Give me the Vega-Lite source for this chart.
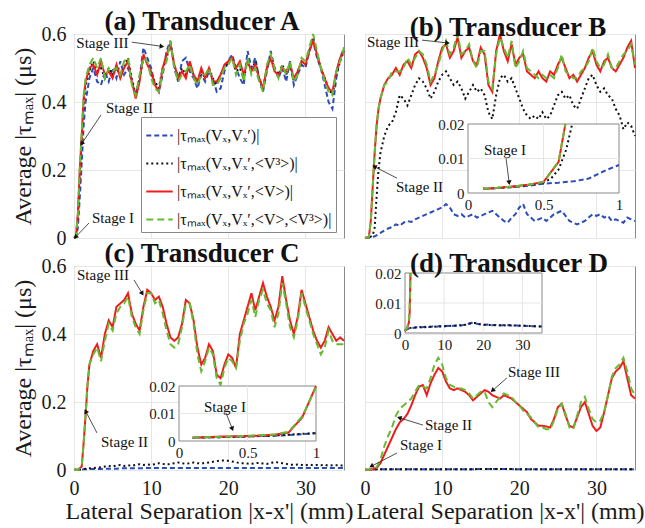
{
"$schema":"https://vega.github.io/schema/vega-lite/v6.json",
"background":"white",
"padding":{"left":10,"top":7,"right":5,"bottom":3},
"config":{
 "font":"Liberation Serif, Times New Roman, serif",
 "view":{"stroke":"#8a8a8a","strokeWidth":1},
 "axis":{"labelFont":"Liberation Serif, Times New Roman, serif","titleFont":"Liberation Serif, Times New Roman, serif","labelFontSize":20,"labelColor":"#1a1a1a","titleColor":"#1a1a1a","titleFontWeight":"normal","grid":true,"gridColor":"#e6e6e6","gridWidth":1,"domain":false,"ticks":false,"labelFlush":false,"labelOverlap":false,"labelPadding":8},
 "title":{"font":"Liberation Serif, Times New Roman, serif","fontSize":27,"fontWeight":"bold","color":"#111","offset":-12,"baseline":"alphabetic","frame":"group"},
 "text":{"font":"Liberation Serif, Times New Roman, serif"}
},
"datasets":{
 "a":[
{"x":0,"s1":0,"s2":0,"s3":0,"s4":0},
{"x":0.25,"s1":0.003,"s2":0.003,"s3":0.003,"s4":0.003},
{"x":0.5,"s1":0.03,"s2":0.06,"s3":0.07,"s4":0.07},
{"x":0.75,"s1":0.12,"s2":0.18,"s3":0.2,"s4":0.21},
{"x":1,"s1":0.22,"s2":0.29,"s3":0.3,"s4":0.31},
{"x":1.25,"s1":0.33,"s2":0.39,"s3":0.41,"s4":0.42},
{"x":1.5,"s1":0.4,"s2":0.45,"s3":0.46,"s4":0.47},
{"x":2,"s1":0.47,"s2":0.49,"s3":0.5,"s4":0.51},
{"x":2.5,"s1":0.5,"s2":0.52,"s3":0.51,"s4":0.53},
{"x":3,"s1":0.46,"s2":0.49,"s3":0.48,"s4":0.5},
{"x":3.5,"s1":0.45,"s2":0.5,"s3":0.52,"s4":0.53},
{"x":4,"s1":0.49,"s2":0.47,"s3":0.48,"s4":0.47},
{"x":4.5,"s1":0.46,"s2":0.5,"s3":0.49,"s4":0.5},
{"x":5,"s1":0.5,"s2":0.48,"s3":0.47,"s4":0.49},
{"x":5.5,"s1":0.47,"s2":0.5,"s3":0.51,"s4":0.5},
{"x":6,"s1":0.52,"s2":0.48,"s3":0.47,"s4":0.48},
{"x":6.5,"s1":0.48,"s2":0.5,"s3":0.5,"s4":0.52},
{"x":7,"s1":0.5,"s2":0.53,"s3":0.52,"s4":0.53},
{"x":7.5,"s1":0.46,"s2":0.47,"s3":0.46,"s4":0.45},
{"x":8,"s1":0.42,"s2":0.42,"s3":0.41,"s4":0.42},
{"x":8.5,"s1":0.47,"s2":0.47,"s3":0.46,"s4":0.48},
{"x":9,"s1":0.56,"s2":0.53,"s3":0.54,"s4":0.53},
{"x":9.5,"s1":0.53,"s2":0.52,"s3":0.51,"s4":0.52},
{"x":10,"s1":0.5,"s2":0.48,"s3":0.49,"s4":0.47},
{"x":10.5,"s1":0.45,"s2":0.46,"s3":0.45,"s4":0.44},
{"x":11,"s1":0.43,"s2":0.44,"s3":0.43,"s4":0.43},
{"x":11.5,"s1":0.48,"s2":0.5,"s3":0.5,"s4":0.49},
{"x":12,"s1":0.55,"s2":0.53,"s3":0.54,"s4":0.52},
{"x":12.5,"s1":0.58,"s2":0.57,"s3":0.57,"s4":0.58},
{"x":13,"s1":0.5,"s2":0.51,"s3":0.51,"s4":0.5},
{"x":13.5,"s1":0.46,"s2":0.47,"s3":0.47,"s4":0.46},
{"x":14,"s1":0.52,"s2":0.5,"s3":0.49,"s4":0.48},
{"x":14.5,"s1":0.53,"s2":0.48,"s3":0.47,"s4":0.49},
{"x":15,"s1":0.49,"s2":0.51,"s3":0.52,"s4":0.51},
{"x":15.5,"s1":0.47,"s2":0.48,"s3":0.48,"s4":0.47},
{"x":16,"s1":0.44,"s2":0.46,"s3":0.46,"s4":0.45},
{"x":16.5,"s1":0.48,"s2":0.49,"s3":0.5,"s4":0.48},
{"x":17,"s1":0.46,"s2":0.47,"s3":0.47,"s4":0.48},
{"x":17.5,"s1":0.49,"s2":0.5,"s3":0.5,"s4":0.5},
{"x":18,"s1":0.47,"s2":0.47,"s3":0.46,"s4":0.45},
{"x":18.5,"s1":0.43,"s2":0.45,"s3":0.46,"s4":0.45},
{"x":19,"s1":0.44,"s2":0.48,"s3":0.48,"s4":0.47},
{"x":19.5,"s1":0.49,"s2":0.5,"s3":0.51,"s4":0.5},
{"x":20,"s1":0.52,"s2":0.52,"s3":0.52,"s4":0.51},
{"x":20.5,"s1":0.54,"s2":0.53,"s3":0.53,"s4":0.53},
{"x":21,"s1":0.5,"s2":0.49,"s3":0.5,"s4":0.48},
{"x":21.5,"s1":0.47,"s2":0.5,"s3":0.52,"s4":0.51},
{"x":22,"s1":0.45,"s2":0.47,"s3":0.48,"s4":0.46},
{"x":22.5,"s1":0.55,"s2":0.52,"s3":0.52,"s4":0.53},
{"x":23,"s1":0.5,"s2":0.49,"s3":0.49,"s4":0.48},
{"x":23.5,"s1":0.53,"s2":0.52,"s3":0.51,"s4":0.5},
{"x":24,"s1":0.47,"s2":0.47,"s3":0.47,"s4":0.46},
{"x":24.5,"s1":0.43,"s2":0.44,"s3":0.44,"s4":0.43},
{"x":25,"s1":0.49,"s2":0.5,"s3":0.5,"s4":0.51},
{"x":25.5,"s1":0.55,"s2":0.53,"s3":0.53,"s4":0.54},
{"x":26,"s1":0.5,"s2":0.5,"s3":0.49,"s4":0.5},
{"x":26.5,"s1":0.47,"s2":0.48,"s3":0.48,"s4":0.47},
{"x":27,"s1":0.5,"s2":0.51,"s3":0.5,"s4":0.51},
{"x":27.5,"s1":0.46,"s2":0.48,"s3":0.49,"s4":0.48},
{"x":28,"s1":0.52,"s2":0.51,"s3":0.51,"s4":0.52},
{"x":28.5,"s1":0.45,"s2":0.46,"s3":0.47,"s4":0.46},
{"x":29,"s1":0.48,"s2":0.49,"s3":0.49,"s4":0.48},
{"x":29.5,"s1":0.51,"s2":0.52,"s3":0.52,"s4":0.53},
{"x":30,"s1":0.5,"s2":0.51,"s3":0.51,"s4":0.52},
{"x":30.5,"s1":0.55,"s2":0.55,"s3":0.55,"s4":0.56},
{"x":31,"s1":0.58,"s2":0.59,"s3":0.58,"s4":0.6},
{"x":31.5,"s1":0.53,"s2":0.54,"s3":0.54,"s4":0.55},
{"x":32,"s1":0.5,"s2":0.5,"s3":0.5,"s4":0.5},
{"x":32.5,"s1":0.45,"s2":0.47,"s3":0.47,"s4":0.46},
{"x":33,"s1":0.4,"s2":0.44,"s3":0.44,"s4":0.43},
{"x":33.5,"s1":0.38,"s2":0.42,"s3":0.43,"s4":0.42},
{"x":34,"s1":0.47,"s2":0.48,"s3":0.49,"s4":0.49},
{"x":34.5,"s1":0.53,"s2":0.52,"s3":0.53,"s4":0.52},
{"x":35,"s1":0.56,"s2":0.55,"s3":0.55,"s4":0.56}
 ],
 "b":[
{"x":0,"s1":0,"s2":0,"s3":0,"s4":0},
{"x":0.5,"s1":0.001,"s2":0.002,"s3":0.003,"s4":0.003},
{"x":0.75,"s1":0.002,"s2":0.004,"s3":0.05,"s4":0.05},
{"x":1,"s1":0.003,"s2":0.008,"s3":0.15,"s4":0.15},
{"x":1.25,"s1":0.005,"s2":0.03,"s3":0.25,"s4":0.25},
{"x":1.5,"s1":0.008,"s2":0.12,"s3":0.33,"s4":0.33},
{"x":1.75,"s1":0.012,"s2":0.2,"s3":0.38,"s4":0.38},
{"x":2,"s1":0.015,"s2":0.25,"s3":0.41,"s4":0.41},
{"x":2.5,"s1":0.022,"s2":0.3,"s3":0.45,"s4":0.45},
{"x":3,"s1":0.028,"s2":0.33,"s3":0.47,"s4":0.46},
{"x":3.5,"s1":0.032,"s2":0.34,"s3":0.48,"s4":0.49},
{"x":4,"s1":0.04,"s2":0.37,"s3":0.5,"s4":0.49},
{"x":4.5,"s1":0.036,"s2":0.42,"s3":0.48,"s4":0.49},
{"x":5,"s1":0.045,"s2":0.41,"s3":0.51,"s4":0.5},
{"x":5.5,"s1":0.05,"s2":0.39,"s3":0.52,"s4":0.53},
{"x":6,"s1":0.047,"s2":0.42,"s3":0.5,"s4":0.51},
{"x":6.5,"s1":0.055,"s2":0.45,"s3":0.54,"s4":0.53},
{"x":7,"s1":0.06,"s2":0.47,"s3":0.55,"s4":0.55},
{"x":7.5,"s1":0.065,"s2":0.46,"s3":0.53,"s4":0.54},
{"x":8,"s1":0.07,"s2":0.44,"s3":0.5,"s4":0.51},
{"x":8.5,"s1":0.075,"s2":0.41,"s3":0.45,"s4":0.46},
{"x":9,"s1":0.08,"s2":0.43,"s3":0.47,"s4":0.48},
{"x":9.5,"s1":0.085,"s2":0.46,"s3":0.52,"s4":0.51},
{"x":10,"s1":0.09,"s2":0.48,"s3":0.56,"s4":0.55},
{"x":10.5,"s1":0.1,"s2":0.49,"s3":0.57,"s4":0.58},
{"x":11,"s1":0.09,"s2":0.47,"s3":0.53,"s4":0.54},
{"x":11.5,"s1":0.07,"s2":0.45,"s3":0.55,"s4":0.56},
{"x":12,"s1":0.065,"s2":0.46,"s3":0.59,"s4":0.6},
{"x":12.5,"s1":0.07,"s2":0.44,"s3":0.53,"s4":0.54},
{"x":13,"s1":0.06,"s2":0.41,"s3":0.55,"s4":0.55},
{"x":13.5,"s1":0.065,"s2":0.43,"s3":0.56,"s4":0.57},
{"x":14,"s1":0.07,"s2":0.45,"s3":0.52,"s4":0.52},
{"x":14.5,"s1":0.06,"s2":0.43,"s3":0.51,"s4":0.5},
{"x":15,"s1":0.065,"s2":0.44,"s3":0.56,"s4":0.55},
{"x":15.5,"s1":0.07,"s2":0.42,"s3":0.54,"s4":0.55},
{"x":16,"s1":0.075,"s2":0.37,"s3":0.45,"s4":0.46},
{"x":16.5,"s1":0.08,"s2":0.35,"s3":0.43,"s4":0.44},
{"x":17,"s1":0.07,"s2":0.42,"s3":0.55,"s4":0.54},
{"x":17.5,"s1":0.06,"s2":0.47,"s3":0.6,"s4":0.59},
{"x":18,"s1":0.05,"s2":0.48,"s3":0.55,"s4":0.56},
{"x":18.5,"s1":0.045,"s2":0.46,"s3":0.52,"s4":0.53},
{"x":19,"s1":0.06,"s2":0.47,"s3":0.57,"s4":0.58},
{"x":19.5,"s1":0.07,"s2":0.44,"s3":0.51,"s4":0.5},
{"x":20,"s1":0.09,"s2":0.41,"s3":0.53,"s4":0.52},
{"x":20.5,"s1":0.1,"s2":0.38,"s3":0.54,"s4":0.55},
{"x":21,"s1":0.07,"s2":0.36,"s3":0.49,"s4":0.5},
{"x":21.5,"s1":0.06,"s2":0.35,"s3":0.48,"s4":0.49},
{"x":22,"s1":0.05,"s2":0.36,"s3":0.47,"s4":0.48},
{"x":22.5,"s1":0.055,"s2":0.35,"s3":0.49,"s4":0.47},
{"x":23,"s1":0.06,"s2":0.37,"s3":0.47,"s4":0.48},
{"x":23.5,"s1":0.05,"s2":0.35,"s3":0.46,"s4":0.47},
{"x":24,"s1":0.06,"s2":0.36,"s3":0.49,"s4":0.48},
{"x":24.5,"s1":0.07,"s2":0.39,"s3":0.48,"s4":0.47},
{"x":25,"s1":0.075,"s2":0.42,"s3":0.51,"s4":0.5},
{"x":25.5,"s1":0.08,"s2":0.43,"s3":0.53,"s4":0.54},
{"x":26,"s1":0.065,"s2":0.41,"s3":0.5,"s4":0.49},
{"x":26.5,"s1":0.05,"s2":0.42,"s3":0.47,"s4":0.48},
{"x":27,"s1":0.045,"s2":0.39,"s3":0.48,"s4":0.47},
{"x":27.5,"s1":0.04,"s2":0.38,"s3":0.46,"s4":0.47},
{"x":28,"s1":0.045,"s2":0.41,"s3":0.48,"s4":0.49},
{"x":28.5,"s1":0.05,"s2":0.44,"s3":0.5,"s4":0.5},
{"x":29,"s1":0.06,"s2":0.47,"s3":0.53,"s4":0.52},
{"x":29.5,"s1":0.07,"s2":0.48,"s3":0.55,"s4":0.56},
{"x":30,"s1":0.065,"s2":0.45,"s3":0.51,"s4":0.52},
{"x":30.5,"s1":0.07,"s2":0.43,"s3":0.49,"s4":0.5},
{"x":31,"s1":0.06,"s2":0.44,"s3":0.52,"s4":0.51},
{"x":31.5,"s1":0.065,"s2":0.42,"s3":0.53,"s4":0.54},
{"x":32,"s1":0.05,"s2":0.41,"s3":0.5,"s4":0.5},
{"x":32.5,"s1":0.055,"s2":0.38,"s3":0.49,"s4":0.5},
{"x":33,"s1":0.05,"s2":0.36,"s3":0.51,"s4":0.52},
{"x":33.5,"s1":0.045,"s2":0.32,"s3":0.53,"s4":0.54},
{"x":34,"s1":0.06,"s2":0.34,"s3":0.56,"s4":0.55},
{"x":34.5,"s1":0.055,"s2":0.33,"s3":0.58,"s4":0.57},
{"x":35,"s1":0.05,"s2":0.3,"s3":0.5,"s4":0.51}
 ],
 "c":[
{"x":0,"s1":0.001,"s2":0.001,"s3":0,"s4":0},
{"x":0.5,"s1":0.001,"s2":0.001,"s3":0.001,"s4":0.001},
{"x":1,"s1":0.001,"s2":0.002,"s3":0.01,"s4":0.01},
{"x":1.25,"s1":0.002,"s2":0.003,"s3":0.08,"s4":0.08},
{"x":1.5,"s1":0.002,"s2":0.004,"s3":0.16,"s4":0.16},
{"x":1.75,"s1":0.002,"s2":0.005,"s3":0.25,"s4":0.25},
{"x":2,"s1":0.003,"s2":0.005,"s3":0.31,"s4":0.31},
{"x":2.5,"s1":0.003,"s2":0.006,"s3":0.35,"s4":0.34},
{"x":3,"s1":0.003,"s2":0.007,"s3":0.37,"s4":0.36},
{"x":3.5,"s1":0.003,"s2":0.008,"s3":0.33,"s4":0.32},
{"x":4,"s1":0.004,"s2":0.01,"s3":0.4,"s4":0.38},
{"x":4.5,"s1":0.004,"s2":0.012,"s3":0.44,"s4":0.43},
{"x":5,"s1":0.004,"s2":0.01,"s3":0.42,"s4":0.41},
{"x":5.5,"s1":0.004,"s2":0.013,"s3":0.48,"s4":0.46},
{"x":6,"s1":0.005,"s2":0.015,"s3":0.49,"s4":0.48},
{"x":6.5,"s1":0.005,"s2":0.012,"s3":0.5,"s4":0.49},
{"x":7,"s1":0.005,"s2":0.014,"s3":0.52,"s4":0.51},
{"x":7.5,"s1":0.005,"s2":0.012,"s3":0.46,"s4":0.45},
{"x":8,"s1":0.005,"s2":0.015,"s3":0.43,"s4":0.42},
{"x":8.5,"s1":0.005,"s2":0.017,"s3":0.41,"s4":0.4},
{"x":9,"s1":0.005,"s2":0.015,"s3":0.48,"s4":0.47},
{"x":9.5,"s1":0.006,"s2":0.016,"s3":0.53,"s4":0.52},
{"x":10,"s1":0.006,"s2":0.015,"s3":0.52,"s4":0.52},
{"x":10.5,"s1":0.006,"s2":0.017,"s3":0.5,"s4":0.49},
{"x":11,"s1":0.006,"s2":0.02,"s3":0.51,"s4":0.5},
{"x":11.5,"s1":0.006,"s2":0.018,"s3":0.48,"s4":0.46},
{"x":12,"s1":0.006,"s2":0.016,"s3":0.43,"s4":0.41},
{"x":12.5,"s1":0.006,"s2":0.018,"s3":0.39,"s4":0.37},
{"x":13,"s1":0.006,"s2":0.02,"s3":0.38,"s4":0.36},
{"x":13.5,"s1":0.006,"s2":0.022,"s3":0.39,"s4":0.37},
{"x":14,"s1":0.006,"s2":0.02,"s3":0.43,"s4":0.42},
{"x":14.5,"s1":0.006,"s2":0.018,"s3":0.5,"s4":0.49},
{"x":15,"s1":0.006,"s2":0.02,"s3":0.49,"s4":0.49},
{"x":15.5,"s1":0.006,"s2":0.022,"s3":0.44,"s4":0.43},
{"x":16,"s1":0.006,"s2":0.02,"s3":0.36,"s4":0.34},
{"x":16.5,"s1":0.006,"s2":0.019,"s3":0.31,"s4":0.29},
{"x":17,"s1":0.006,"s2":0.021,"s3":0.33,"s4":0.32},
{"x":17.5,"s1":0.006,"s2":0.022,"s3":0.37,"s4":0.36},
{"x":18,"s1":0.006,"s2":0.024,"s3":0.35,"s4":0.34},
{"x":18.5,"s1":0.006,"s2":0.026,"s3":0.28,"s4":0.27},
{"x":19,"s1":0.006,"s2":0.028,"s3":0.27,"s4":0.25},
{"x":19.5,"s1":0.006,"s2":0.028,"s3":0.31,"s4":0.3},
{"x":20,"s1":0.006,"s2":0.027,"s3":0.34,"s4":0.33},
{"x":20.5,"s1":0.006,"s2":0.025,"s3":0.33,"s4":0.32},
{"x":21,"s1":0.006,"s2":0.023,"s3":0.3,"s4":0.3},
{"x":21.5,"s1":0.006,"s2":0.02,"s3":0.4,"s4":0.38},
{"x":22,"s1":0.006,"s2":0.02,"s3":0.44,"s4":0.43},
{"x":22.5,"s1":0.006,"s2":0.019,"s3":0.48,"s4":0.46},
{"x":23,"s1":0.006,"s2":0.018,"s3":0.52,"s4":0.5},
{"x":23.5,"s1":0.006,"s2":0.02,"s3":0.47,"s4":0.45},
{"x":24,"s1":0.006,"s2":0.021,"s3":0.51,"s4":0.5},
{"x":24.5,"s1":0.006,"s2":0.019,"s3":0.55,"s4":0.53},
{"x":25,"s1":0.006,"s2":0.018,"s3":0.51,"s4":0.49},
{"x":25.5,"s1":0.006,"s2":0.02,"s3":0.48,"s4":0.47},
{"x":26,"s1":0.006,"s2":0.024,"s3":0.44,"s4":0.42},
{"x":26.5,"s1":0.006,"s2":0.022,"s3":0.48,"s4":0.46},
{"x":27,"s1":0.006,"s2":0.02,"s3":0.57,"s4":0.55},
{"x":27.5,"s1":0.006,"s2":0.018,"s3":0.5,"s4":0.49},
{"x":28,"s1":0.006,"s2":0.016,"s3":0.44,"s4":0.42},
{"x":28.5,"s1":0.006,"s2":0.015,"s3":0.4,"s4":0.39},
{"x":29,"s1":0.006,"s2":0.016,"s3":0.45,"s4":0.44},
{"x":29.5,"s1":0.006,"s2":0.015,"s3":0.53,"s4":0.52},
{"x":30,"s1":0.006,"s2":0.014,"s3":0.49,"s4":0.48},
{"x":30.5,"s1":0.006,"s2":0.016,"s3":0.45,"s4":0.44},
{"x":31,"s1":0.006,"s2":0.014,"s3":0.41,"s4":0.4},
{"x":31.5,"s1":0.006,"s2":0.015,"s3":0.38,"s4":0.37},
{"x":32,"s1":0.006,"s2":0.014,"s3":0.36,"s4":0.34},
{"x":32.5,"s1":0.006,"s2":0.015,"s3":0.38,"s4":0.36},
{"x":33,"s1":0.006,"s2":0.013,"s3":0.42,"s4":0.41},
{"x":33.5,"s1":0.006,"s2":0.014,"s3":0.4,"s4":0.38},
{"x":34,"s1":0.006,"s2":0.014,"s3":0.38,"s4":0.37},
{"x":34.5,"s1":0.006,"s2":0.013,"s3":0.39,"s4":0.37},
{"x":35,"s1":0.006,"s2":0.013,"s3":0.38,"s4":0.37}
 ],
 "d":[
{"x":0,"s1":0.001,"s2":0.001,"s3":0.001,"s4":0.001},
{"x":0.5,"s1":0.001,"s2":0.001,"s3":0.001,"s4":0.001},
{"x":1,"s1":0.0015,"s2":0.0015,"s3":0.002,"s4":0.003},
{"x":1.5,"s1":0.002,"s2":0.002,"s3":0.006,"s4":0.008},
{"x":2,"s1":0.002,"s2":0.002,"s3":0.02,"s4":0.03},
{"x":2.5,"s1":0.002,"s2":0.002,"s3":0.045,"s4":0.07},
{"x":3,"s1":0.002,"s2":0.002,"s3":0.07,"s4":0.1},
{"x":3.5,"s1":0.002,"s2":0.002,"s3":0.095,"s4":0.125},
{"x":4,"s1":0.002,"s2":0.002,"s3":0.12,"s4":0.16},
{"x":4.5,"s1":0.002,"s2":0.002,"s3":0.14,"s4":0.18},
{"x":5,"s1":0.002,"s2":0.002,"s3":0.15,"s4":0.19},
{"x":5.5,"s1":0.002,"s2":0.002,"s3":0.165,"s4":0.2},
{"x":6,"s1":0.002,"s2":0.002,"s3":0.19,"s4":0.21},
{"x":6.5,"s1":0.002,"s2":0.002,"s3":0.22,"s4":0.23},
{"x":7,"s1":0.002,"s2":0.002,"s3":0.245,"s4":0.25},
{"x":7.5,"s1":0.002,"s2":0.002,"s3":0.25,"s4":0.245},
{"x":8,"s1":0.002,"s2":0.002,"s3":0.22,"s4":0.24},
{"x":8.5,"s1":0.002,"s2":0.002,"s3":0.255,"s4":0.27},
{"x":9,"s1":0.002,"s2":0.002,"s3":0.28,"s4":0.31},
{"x":9.5,"s1":0.002,"s2":0.002,"s3":0.3,"s4":0.33},
{"x":10,"s1":0.002,"s2":0.002,"s3":0.29,"s4":0.31},
{"x":10.5,"s1":0.002,"s2":0.002,"s3":0.26,"s4":0.27},
{"x":11,"s1":0.002,"s2":0.002,"s3":0.24,"s4":0.25},
{"x":11.5,"s1":0.002,"s2":0.002,"s3":0.235,"s4":0.245},
{"x":12,"s1":0.002,"s2":0.002,"s3":0.24,"s4":0.24},
{"x":12.5,"s1":0.002,"s2":0.002,"s3":0.235,"s4":0.24},
{"x":13,"s1":0.002,"s2":0.002,"s3":0.23,"s4":0.235},
{"x":13.5,"s1":0.002,"s2":0.002,"s3":0.22,"s4":0.225},
{"x":14,"s1":0.002,"s2":0.002,"s3":0.205,"s4":0.21},
{"x":14.5,"s1":0.003,"s2":0.003,"s3":0.215,"s4":0.22},
{"x":15,"s1":0.003,"s2":0.003,"s3":0.225,"s4":0.23},
{"x":15.5,"s1":0.003,"s2":0.003,"s3":0.235,"s4":0.23},
{"x":16,"s1":0.003,"s2":0.003,"s3":0.23,"s4":0.2},
{"x":16.5,"s1":0.003,"s2":0.003,"s3":0.22,"s4":0.185},
{"x":17,"s1":0.003,"s2":0.003,"s3":0.215,"s4":0.2},
{"x":17.5,"s1":0.003,"s2":0.003,"s3":0.21,"s4":0.215},
{"x":18,"s1":0.003,"s2":0.003,"s3":0.22,"s4":0.225},
{"x":18.5,"s1":0.003,"s2":0.003,"s3":0.215,"s4":0.22},
{"x":19,"s1":0.003,"s2":0.003,"s3":0.21,"s4":0.215},
{"x":19.5,"s1":0.002,"s2":0.002,"s3":0.2,"s4":0.2},
{"x":20,"s1":0.002,"s2":0.002,"s3":0.19,"s4":0.19},
{"x":20.5,"s1":0.002,"s2":0.002,"s3":0.18,"s4":0.175},
{"x":21,"s1":0.002,"s2":0.002,"s3":0.17,"s4":0.165},
{"x":21.5,"s1":0.002,"s2":0.002,"s3":0.15,"s4":0.155},
{"x":22,"s1":0.002,"s2":0.002,"s3":0.14,"s4":0.14},
{"x":22.5,"s1":0.002,"s2":0.002,"s3":0.13,"s4":0.125},
{"x":23,"s1":0.002,"s2":0.002,"s3":0.13,"s4":0.125},
{"x":23.5,"s1":0.002,"s2":0.002,"s3":0.128,"s4":0.12},
{"x":24,"s1":0.002,"s2":0.002,"s3":0.125,"s4":0.12},
{"x":24.5,"s1":0.002,"s2":0.002,"s3":0.15,"s4":0.145},
{"x":25,"s1":0.002,"s2":0.002,"s3":0.185,"s4":0.18},
{"x":25.5,"s1":0.002,"s2":0.002,"s3":0.195,"s4":0.195},
{"x":26,"s1":0.002,"s2":0.002,"s3":0.16,"s4":0.165},
{"x":26.5,"s1":0.002,"s2":0.002,"s3":0.13,"s4":0.125},
{"x":27,"s1":0.002,"s2":0.002,"s3":0.125,"s4":0.12},
{"x":27.5,"s1":0.002,"s2":0.002,"s3":0.155,"s4":0.16},
{"x":28,"s1":0.002,"s2":0.002,"s3":0.185,"s4":0.2},
{"x":28.5,"s1":0.002,"s2":0.002,"s3":0.2,"s4":0.215},
{"x":29,"s1":0.002,"s2":0.002,"s3":0.165,"s4":0.18},
{"x":29.5,"s1":0.002,"s2":0.002,"s3":0.13,"s4":0.15},
{"x":30,"s1":0.002,"s2":0.002,"s3":0.115,"s4":0.14},
{"x":30.5,"s1":0.002,"s2":0.002,"s3":0.125,"s4":0.145},
{"x":31,"s1":0.002,"s2":0.002,"s3":0.17,"s4":0.17},
{"x":31.5,"s1":0.002,"s2":0.002,"s3":0.22,"s4":0.22},
{"x":32,"s1":0.002,"s2":0.002,"s3":0.27,"s4":0.275},
{"x":32.5,"s1":0.002,"s2":0.002,"s3":0.29,"s4":0.3},
{"x":33,"s1":0.002,"s2":0.002,"s3":0.3,"s4":0.31},
{"x":33.5,"s1":0.002,"s2":0.002,"s3":0.32,"s4":0.33},
{"x":34,"s1":0.002,"s2":0.002,"s3":0.27,"s4":0.29},
{"x":34.5,"s1":0.002,"s2":0.002,"s3":0.22,"s4":0.24},
{"x":35,"s1":0.002,"s2":0.002,"s3":0.21,"s4":0.22}
 ],
 "bi":[
{"x":0.1,"s1":0.0012,"s2":0.0012,"s3":0.0012,"s4":0.0012},
{"x":0.2,"s1":0.0014,"s2":0.0015,"s3":0.0015,"s4":0.0015},
{"x":0.3,"s1":0.0017,"s2":0.0018,"s3":0.0019,"s4":0.0019},
{"x":0.4,"s1":0.0021,"s2":0.0023,"s3":0.0024,"s4":0.0024},
{"x":0.5,"s1":0.0027,"s2":0.003,"s3":0.0032,"s4":0.0032},
{"x":0.55,"s2":0.0042},
{"x":0.6,"s1":0.003,"s2":0.0068,"s3":0.009,"s4":0.0092},
{"x":0.645,"s3":0.02,"s4":0.02},
{"x":0.65,"s2":0.0125},
{"x":0.69,"s2":0.02},
{"x":0.7,"s1":0.0034},
{"x":0.8,"s1":0.0042},
{"x":0.87,"s1":0.0057},
{"x":0.93,"s1":0.0069},
{"x":1,"s1":0.0081}
 ],
 "ci":[
{"x":0.1,"s1":0.0012,"s2":0.0012,"s3":0.0012,"s4":0.0012},
{"x":0.2,"s1":0.0013,"s2":0.0013,"s3":0.0014,"s4":0.0014},
{"x":0.3,"s1":0.0014,"s2":0.0014,"s3":0.0016,"s4":0.0015},
{"x":0.4,"s1":0.0015,"s2":0.0015,"s3":0.0017,"s4":0.0017},
{"x":0.5,"s1":0.0016,"s2":0.0017,"s3":0.0018,"s4":0.0019},
{"x":0.6,"s1":0.0018,"s2":0.0018,"s3":0.002,"s4":0.0021},
{"x":0.7,"s1":0.0019,"s2":0.002,"s3":0.0023,"s4":0.0024},
{"x":0.8,"s1":0.0022,"s2":0.0023,"s3":0.0031,"s4":0.0034},
{"x":0.9,"s1":0.0025,"s2":0.0026,"s3":0.0086,"s4":0.009},
{"x":1,"s1":0.0028,"s2":0.0029,"s3":0.02,"s4":0.0195}
 ],
 "di":[
{"x":0,"s1":0.0008,"s2":0.0009,"s3":0.0006,"s4":0.0007},
{"x":0.5,"s1":0.0012,"s2":0.0012,"s3":0.0014,"s4":0.0016},
{"x":1,"s1":0.0015,"s2":0.0016,"s3":0.0035,"s4":0.0045},
{"x":1.2,"s3":0.007,"s4":0.009},
{"x":1.4,"s3":0.02,"s4":0.02},
{"x":2,"s1":0.0017,"s2":0.0018},
{"x":3,"s1":0.0019,"s2":0.0018},
{"x":4,"s1":0.0018,"s2":0.002},
{"x":5,"s1":0.0021,"s2":0.0019},
{"x":6,"s1":0.002,"s2":0.0021},
{"x":7,"s1":0.0022,"s2":0.002},
{"x":8,"s1":0.0021,"s2":0.0022},
{"x":9,"s1":0.0023,"s2":0.0022},
{"x":10,"s1":0.0022,"s2":0.0023},
{"x":11,"s1":0.0024,"s2":0.0023},
{"x":12,"s1":0.0023,"s2":0.0024},
{"x":13,"s1":0.0025,"s2":0.0024},
{"x":14,"s1":0.0024,"s2":0.0026},
{"x":15,"s1":0.0027,"s2":0.0026},
{"x":16,"s1":0.003,"s2":0.0029},
{"x":17,"s1":0.0034,"s2":0.0033},
{"x":18,"s1":0.0032,"s2":0.0033},
{"x":19,"s1":0.0029,"s2":0.003},
{"x":20,"s1":0.0027,"s2":0.0028},
{"x":21,"s1":0.0028,"s2":0.0027},
{"x":22,"s1":0.0026,"s2":0.0027},
{"x":23,"s1":0.0027,"s2":0.0026},
{"x":24,"s1":0.0025,"s2":0.0026},
{"x":25,"s1":0.0026,"s2":0.0025},
{"x":26,"s1":0.0027,"s2":0.0026},
{"x":27,"s1":0.0025,"s2":0.0026},
{"x":28,"s1":0.0026,"s2":0.0025},
{"x":29,"s1":0.0024,"s2":0.0025},
{"x":30,"s1":0.0025,"s2":0.0024},
{"x":31,"s1":0.0023,"s2":0.0024},
{"x":32,"s1":0.0024,"s2":0.0023},
{"x":33,"s1":0.0022,"s2":0.0023},
{"x":34,"s1":0.0023,"s2":0.0022},
{"x":35,"s1":0.0022,"s2":0.0022}
 ],
 "ann_a":[
{"t":"Stage III","tx":0.3,"ty":0.574,"ax":7.5,"ay":0.576,"hx":11.3,"hy":0.564,"ang":98},
{"t":"Stage II","tx":4.15,"ty":0.382,"ax":3.5,"ay":0.362,"hx":1.05,"hy":0.279,"ang":-146},
{"t":"Stage I","tx":2.33,"ty":0.059,"ax":1.94,"ay":0.044,"hx":0.26,"hy":0.004,"ang":-137}
 ],
 "ann_b":[
{"t":"Stage III","tx":0.26,"ty":0.576,"ax":7.39,"ay":0.582,"hx":10.6,"hy":0.574,"ang":97},
{"t":"Stage II","tx":4.02,"ty":0.15,"ax":4.15,"ay":0.176,"hx":1.3,"hy":0.209,"ang":-63}
 ],
 "ann_bi":[
{"t":"Stage I","tx":0.106,"ty":0.0125,"ax":0.252,"ay":0.0101,"hx":0.272,"hy":0.0032,"ang":173}
 ],
 "ann_c":[
{"t":"Stage III","tx":0.39,"ty":0.574,"ax":7.78,"ay":0.559,"hx":8.8,"hy":0.521,"ang":148},
{"t":"Stage II","tx":3.5,"ty":0.082,"ax":2.98,"ay":0.109,"hx":1.56,"hy":0.171,"ang":-28}
 ],
 "ann_ci":[
{"t":"Stage I","tx":0.182,"ty":0.0124,"ax":0.343,"ay":0.0102,"hx":0.387,"hy":0.0047,"ang":158}
 ],
 "ann_d":[
{"t":"Stage III","tx":18.54,"ty":0.288,"ax":18.4,"ay":0.271,"hx":16.6,"hy":0.235,"ang":-131},
{"t":"Stage II","tx":7.78,"ty":0.132,"ax":7.52,"ay":0.132,"hx":4.54,"hy":0.153,"ang":-73},
{"t":"Stage I","tx":4.54,"ty":0.074,"ax":4.15,"ay":0.05,"hx":0.91,"hy":0.012,"ang":-118}
 ]
},
"concat":[
 {"width":270,"height":204,"title":{"text":"(a) Transducer A","dx":-7},
  "layer":[
   {"data":{"name":"a"},"transform":[{"fold":["s1","s2","s3","s4"],"as":["series","v"]},{"filter":"isValid(datum.v)"}],
    "mark":{"type":"line","strokeWidth":2},
    "encoding":{
     "x":{"field":"x","type":"quantitative","scale":{"domain":[0,35],"nice":false},"axis":{"orient":"bottom","values":[0,10,20,30],"labels":false,"title":null}},
     "y":{"field":"v","type":"quantitative","scale":{"domain":[0,0.6],"nice":false},"axis":{"orient":"left","values":[0,0.2,0.4,0.6],"format":"~g","title":"Average |τₘₐₓ| (μs)","titleFontSize":24,"titlePadding":6}},
     "color":{"field":"series","type":"nominal","scale":{"domain":["s1","s2","s3","s4"],"range":["#2c4cb8","#111111","#f01c1c","#66bb33"]},
      "legend":{"orient":"none","legendX":67,"legendY":83,"title":null,"symbolType":"stroke","symbolSize":700,"symbolStrokeWidth":2,"labelFontSize":16,"labelColor":"#111","labelLimit":400,"labelOffset":3,"rowPadding":5,"padding":4,"strokeColor":"#888","fillColor":"white",
       "labelExpr":"datum.value == 's1' ? '|τₘₐₓ(Vₓ,Vₓ′)|' : datum.value == 's2' ? '|τₘₐₓ(Vₓ,Vₓ′,<V³>)|' : datum.value == 's3' ? '|τₘₐₓ(Vₓ,Vₓ′,<V>)|' : '|τₘₐₓ(Vₓ,Vₓ′,<V>,<V³>)|'"}},
     "strokeDash":{"field":"series","type":"nominal","scale":{"domain":["s1","s2","s3","s4"],"range":[[5,3],[2,3],[1,0],[7,4]]},
      "legend":{"orient":"none","legendX":67,"legendY":83,"title":null,"symbolType":"stroke","symbolSize":700,"symbolStrokeWidth":2,"labelFontSize":16,"labelColor":"#111","labelLimit":400,"labelOffset":3,"rowPadding":5,"padding":4,"strokeColor":"#888","fillColor":"white",
       "labelExpr":"datum.value == 's1' ? '|τₘₐₓ(Vₓ,Vₓ′)|' : datum.value == 's2' ? '|τₘₐₓ(Vₓ,Vₓ′,<V³>)|' : datum.value == 's3' ? '|τₘₐₓ(Vₓ,Vₓ′,<V>)|' : '|τₘₐₓ(Vₓ,Vₓ′,<V>,<V³>)|'"}}
    }},
   {"data":{"name":"ann_a"},"mark":{"type":"text","align":"left","baseline":"middle","fontSize":15,"color":"#111"},
    "encoding":{"x":{"field":"tx","type":"quantitative","scale":{"domain":[0,35],"nice":false}},"y":{"field":"ty","type":"quantitative","scale":{"domain":[0,0.6],"nice":false}},"text":{"field":"t"}}},
   {"data":{"name":"ann_a"},"mark":{"type":"rule","color":"#222","strokeWidth":0.8},
    "encoding":{"x":{"field":"ax","type":"quantitative","scale":{"domain":[0,35],"nice":false}},"y":{"field":"ay","type":"quantitative","scale":{"domain":[0,0.6],"nice":false}},"x2":{"field":"hx"},"y2":{"field":"hy"}}},
   {"data":{"name":"ann_a"},"mark":{"type":"point","shape":"triangle","filled":true,"size":28,"color":"#111","opacity":1},
    "encoding":{"x":{"field":"hx","type":"quantitative","scale":{"domain":[0,35],"nice":false}},"y":{"field":"hy","type":"quantitative","scale":{"domain":[0,0.6],"nice":false}},"angle":{"field":"ang","type":"quantitative","scale":null}}}
  ]},
 {"width":270,"height":204,"title":{"text":"(b) Transducer B","dx":8},
  "layer":[
   {"layer":[
    {"data":{"name":"b"},"transform":[{"fold":["s1","s2","s3","s4"],"as":["series","v"]},{"filter":"isValid(datum.v)"}],
     "mark":{"type":"line","strokeWidth":2},
     "encoding":{
      "x":{"field":"x","type":"quantitative","scale":{"domain":[0,35],"nice":false},"axis":{"orient":"bottom","values":[0,10,20,30],"labels":false,"title":null}},
      "y":{"field":"v","type":"quantitative","scale":{"domain":[0,0.6],"nice":false},"axis":{"orient":"left","values":[0,0.2,0.4,0.6],"labels":false,"title":null}},
      "color":{"field":"series","type":"nominal","scale":{"domain":["s1","s2","s3","s4"],"range":["#2c4cb8","#111111","#f01c1c","#66bb33"]},"legend":null},
      "strokeDash":{"field":"series","type":"nominal","scale":{"domain":["s1","s2","s3","s4"],"range":[[5,3],[2,3],[1,0],[7,4]]},"legend":null}
     }},
    {"data":{"name":"ann_b"},"mark":{"type":"text","align":"left","baseline":"middle","fontSize":15,"color":"#111"},
     "encoding":{"x":{"field":"tx","type":"quantitative","scale":{"domain":[0,35],"nice":false}},"y":{"field":"ty","type":"quantitative","scale":{"domain":[0,0.6],"nice":false}},"text":{"field":"t"}}},
    {"data":{"name":"ann_b"},"mark":{"type":"rule","color":"#222","strokeWidth":0.8},
     "encoding":{"x":{"field":"ax","type":"quantitative","scale":{"domain":[0,35],"nice":false}},"y":{"field":"ay","type":"quantitative","scale":{"domain":[0,0.6],"nice":false}},"x2":{"field":"hx"},"y2":{"field":"hy"}}},
    {"data":{"name":"ann_b"},"mark":{"type":"point","shape":"triangle","filled":true,"size":28,"color":"#111","opacity":1},
     "encoding":{"x":{"field":"hx","type":"quantitative","scale":{"domain":[0,35],"nice":false}},"y":{"field":"hy","type":"quantitative","scale":{"domain":[0,0.6],"nice":false}},"angle":{"field":"ang","type":"quantitative","scale":null}}}
   ]},
   {"layer":[
    {"data":{"values":[{}]},"mark":{"type":"rect","fill":"white","stroke":"#888","strokeWidth":1},
     "encoding":{"x":{"datum":0,"type":"quantitative","scale":{"domain":[0,1],"range":[103,254],"nice":false}},"x2":{"datum":1},"y":{"datum":0,"type":"quantitative","scale":{"domain":[0,0.02],"range":[159,90],"nice":false}},"y2":{"datum":0.02}}},
    {"data":{"values":[{}]},"mark":{"type":"rule","color":"#e6e6e6","strokeWidth":1},
     "encoding":{"x":{"datum":0.5,"type":"quantitative","scale":{"domain":[0,1],"range":[103,254],"nice":false}},"y":{"datum":0,"type":"quantitative","scale":{"domain":[0,0.02],"range":[159,90],"nice":false}},"y2":{"datum":0.02}}},
    {"data":{"values":[{}]},"mark":{"type":"rule","color":"#e6e6e6","strokeWidth":1},
     "encoding":{"x":{"datum":0,"type":"quantitative","scale":{"domain":[0,1],"range":[103,254],"nice":false}},"x2":{"datum":1},"y":{"datum":0.01,"type":"quantitative","scale":{"domain":[0,0.02],"range":[159,90],"nice":false}}}},
    {"data":{"name":"bi"},"transform":[{"fold":["s1","s2","s3","s4"],"as":["series","v"]},{"filter":"isValid(datum.v)"}],
     "mark":{"type":"line","strokeWidth":2},
     "encoding":{
      "x":{"field":"x","type":"quantitative","scale":{"domain":[0,1],"range":[103,254],"nice":false},"axis":{"orient":"bottom","offset":-45,"values":[0,0.5,1],"format":"~g","labelFontSize":15,"grid":false,"labelPadding":4,"title":null,"zindex":1}},
      "y":{"field":"v","type":"quantitative","scale":{"domain":[0,0.02],"range":[159,90],"nice":false},"axis":{"orient":"left","offset":-103,"values":[0,0.01,0.02],"format":"~g","labelFontSize":15,"grid":false,"labelPadding":4,"title":null,"zindex":1}},
      "color":{"field":"series","type":"nominal","scale":{"domain":["s1","s2","s3","s4"],"range":["#2c4cb8","#111111","#f01c1c","#66bb33"]},"legend":null},
      "strokeDash":{"field":"series","type":"nominal","scale":{"domain":["s1","s2","s3","s4"],"range":[[5,3],[2,3],[1,0],[7,4]]},"legend":null}
     }},
    {"data":{"name":"ann_bi"},"mark":{"type":"text","align":"left","baseline":"middle","fontSize":15,"color":"#111"},
     "encoding":{"x":{"field":"tx","type":"quantitative","scale":{"domain":[0,1],"range":[103,254],"nice":false}},"y":{"field":"ty","type":"quantitative","scale":{"domain":[0,0.02],"range":[159,90],"nice":false}},"text":{"field":"t"}}},
    {"data":{"name":"ann_bi"},"mark":{"type":"rule","color":"#222","strokeWidth":0.8},
     "encoding":{"x":{"field":"ax","type":"quantitative","scale":{"domain":[0,1],"range":[103,254],"nice":false}},"y":{"field":"ay","type":"quantitative","scale":{"domain":[0,0.02],"range":[159,90],"nice":false}},"x2":{"field":"hx"},"y2":{"field":"hy"}}},
    {"data":{"name":"ann_bi"},"mark":{"type":"point","shape":"triangle","filled":true,"size":28,"color":"#111","opacity":1},
     "encoding":{"x":{"field":"hx","type":"quantitative","scale":{"domain":[0,1],"range":[103,254],"nice":false}},"y":{"field":"hy","type":"quantitative","scale":{"domain":[0,0.02],"range":[159,90],"nice":false}},"angle":{"field":"ang","type":"quantitative","scale":null}}}
   ]}
  ],
  "resolve":{"scale":{"x":"independent","y":"independent"}}},
 {"width":270,"height":204,"title":{"text":"(c) Transducer C","dx":-7},
  "layer":[
   {"layer":[
    {"data":{"name":"c"},"transform":[{"fold":["s1","s2","s3","s4"],"as":["series","v"]},{"filter":"isValid(datum.v)"}],
     "mark":{"type":"line","strokeWidth":2},
     "encoding":{
      "x":{"field":"x","type":"quantitative","scale":{"domain":[0,35],"nice":false},"axis":{"orient":"bottom","values":[0,10,20,30],"title":"Lateral Separation |x-x'| (mm)","titleFontSize":24,"labelPadding":8,"titlePadding":1}},
      "y":{"field":"v","type":"quantitative","scale":{"domain":[0,0.6],"nice":false},"axis":{"orient":"left","values":[0,0.2,0.4,0.6],"format":"~g","title":"Average |τₘₐₓ| (μs)","titleFontSize":24,"titlePadding":6}},
      "color":{"field":"series","type":"nominal","scale":{"domain":["s1","s2","s3","s4"],"range":["#2c4cb8","#111111","#f01c1c","#66bb33"]},"legend":null},
      "strokeDash":{"field":"series","type":"nominal","scale":{"domain":["s1","s2","s3","s4"],"range":[[5,3],[2,3],[1,0],[7,4]]},"legend":null}
     }},
    {"data":{"name":"ann_c"},"mark":{"type":"text","align":"left","baseline":"middle","fontSize":15,"color":"#111"},
     "encoding":{"x":{"field":"tx","type":"quantitative","scale":{"domain":[0,35],"nice":false}},"y":{"field":"ty","type":"quantitative","scale":{"domain":[0,0.6],"nice":false}},"text":{"field":"t"}}},
    {"data":{"name":"ann_c"},"mark":{"type":"rule","color":"#222","strokeWidth":0.8},
     "encoding":{"x":{"field":"ax","type":"quantitative","scale":{"domain":[0,35],"nice":false}},"y":{"field":"ay","type":"quantitative","scale":{"domain":[0,0.6],"nice":false}},"x2":{"field":"hx"},"y2":{"field":"hy"}}},
    {"data":{"name":"ann_c"},"mark":{"type":"point","shape":"triangle","filled":true,"size":28,"color":"#111","opacity":1},
     "encoding":{"x":{"field":"hx","type":"quantitative","scale":{"domain":[0,35],"nice":false}},"y":{"field":"hy","type":"quantitative","scale":{"domain":[0,0.6],"nice":false}},"angle":{"field":"ang","type":"quantitative","scale":null}}}
   ]},
   {"layer":[
    {"data":{"values":[{}]},"mark":{"type":"rect","fill":"white","stroke":"#888","strokeWidth":1},
     "encoding":{"x":{"datum":0,"type":"quantitative","scale":{"domain":[0,1],"range":[105,242],"nice":false}},"x2":{"datum":1},"y":{"datum":0,"type":"quantitative","scale":{"domain":[0,0.02],"range":[175,120],"nice":false}},"y2":{"datum":0.02}}},
    {"data":{"values":[{}]},"mark":{"type":"rule","color":"#e6e6e6","strokeWidth":1},
     "encoding":{"x":{"datum":0.5,"type":"quantitative","scale":{"domain":[0,1],"range":[105,242],"nice":false}},"y":{"datum":0,"type":"quantitative","scale":{"domain":[0,0.02],"range":[175,120],"nice":false}},"y2":{"datum":0.02}}},
    {"data":{"values":[{}]},"mark":{"type":"rule","color":"#e6e6e6","strokeWidth":1},
     "encoding":{"x":{"datum":0,"type":"quantitative","scale":{"domain":[0,1],"range":[105,242],"nice":false}},"x2":{"datum":1},"y":{"datum":0.01,"type":"quantitative","scale":{"domain":[0,0.02],"range":[175,120],"nice":false}}}},
    {"data":{"name":"ci"},"transform":[{"fold":["s1","s2","s3","s4"],"as":["series","v"]},{"filter":"isValid(datum.v)"}],
     "mark":{"type":"line","strokeWidth":2},
     "encoding":{
      "x":{"field":"x","type":"quantitative","scale":{"domain":[0,1],"range":[105,242],"nice":false},"axis":{"orient":"bottom","offset":-29,"values":[0,0.5,1],"format":"~g","labelFontSize":15,"grid":false,"labelPadding":4,"title":null,"zindex":1}},
      "y":{"field":"v","type":"quantitative","scale":{"domain":[0,0.02],"range":[175,120],"nice":false},"axis":{"orient":"left","offset":-105,"values":[0,0.01,0.02],"format":"~g","labelFontSize":15,"grid":false,"labelPadding":4,"title":null,"zindex":1}},
      "color":{"field":"series","type":"nominal","scale":{"domain":["s1","s2","s3","s4"],"range":["#2c4cb8","#111111","#f01c1c","#66bb33"]},"legend":null},
      "strokeDash":{"field":"series","type":"nominal","scale":{"domain":["s1","s2","s3","s4"],"range":[[5,3],[2,3],[1,0],[7,4]]},"legend":null}
     }},
    {"data":{"name":"ann_ci"},"mark":{"type":"text","align":"left","baseline":"middle","fontSize":15,"color":"#111"},
     "encoding":{"x":{"field":"tx","type":"quantitative","scale":{"domain":[0,1],"range":[105,242],"nice":false}},"y":{"field":"ty","type":"quantitative","scale":{"domain":[0,0.02],"range":[175,120],"nice":false}},"text":{"field":"t"}}},
    {"data":{"name":"ann_ci"},"mark":{"type":"rule","color":"#222","strokeWidth":0.8},
     "encoding":{"x":{"field":"ax","type":"quantitative","scale":{"domain":[0,1],"range":[105,242],"nice":false}},"y":{"field":"ay","type":"quantitative","scale":{"domain":[0,0.02],"range":[175,120],"nice":false}},"x2":{"field":"hx"},"y2":{"field":"hy"}}},
    {"data":{"name":"ann_ci"},"mark":{"type":"point","shape":"triangle","filled":true,"size":28,"color":"#111","opacity":1},
     "encoding":{"x":{"field":"hx","type":"quantitative","scale":{"domain":[0,1],"range":[105,242],"nice":false}},"y":{"field":"hy","type":"quantitative","scale":{"domain":[0,0.02],"range":[175,120],"nice":false}},"angle":{"field":"ang","type":"quantitative","scale":null}}}
   ]}
  ],
  "resolve":{"scale":{"x":"independent","y":"independent"}}},
 {"width":270,"height":204,"title":{"text":"(d) Transducer D","dx":9},
  "layer":[
   {"layer":[
    {"data":{"name":"d"},"transform":[{"fold":["s1","s2","s3","s4"],"as":["series","v"]},{"filter":"isValid(datum.v)"}],
     "mark":{"type":"line","strokeWidth":2},
     "encoding":{
      "x":{"field":"x","type":"quantitative","scale":{"domain":[0,35],"nice":false},"axis":{"orient":"bottom","values":[0,10,20,30],"title":"Lateral Separation |x-x'| (mm)","titleFontSize":24,"labelPadding":8,"titlePadding":1}},
      "y":{"field":"v","type":"quantitative","scale":{"domain":[0,0.6],"nice":false},"axis":{"orient":"left","values":[0,0.2,0.4,0.6],"labels":false,"title":null}},
      "color":{"field":"series","type":"nominal","scale":{"domain":["s1","s2","s3","s4"],"range":["#2c4cb8","#111111","#f01c1c","#66bb33"]},"legend":null},
      "strokeDash":{"field":"series","type":"nominal","scale":{"domain":["s1","s2","s3","s4"],"range":[[5,3],[2,3],[1,0],[7,4]]},"legend":null}
     }},
    {"data":{"name":"ann_d"},"mark":{"type":"text","align":"left","baseline":"middle","fontSize":15,"color":"#111"},
     "encoding":{"x":{"field":"tx","type":"quantitative","scale":{"domain":[0,35],"nice":false}},"y":{"field":"ty","type":"quantitative","scale":{"domain":[0,0.6],"nice":false}},"text":{"field":"t"}}},
    {"data":{"name":"ann_d"},"mark":{"type":"rule","color":"#222","strokeWidth":0.8},
     "encoding":{"x":{"field":"ax","type":"quantitative","scale":{"domain":[0,35],"nice":false}},"y":{"field":"ay","type":"quantitative","scale":{"domain":[0,0.6],"nice":false}},"x2":{"field":"hx"},"y2":{"field":"hy"}}},
    {"data":{"name":"ann_d"},"mark":{"type":"point","shape":"triangle","filled":true,"size":28,"color":"#111","opacity":1},
     "encoding":{"x":{"field":"hx","type":"quantitative","scale":{"domain":[0,35],"nice":false}},"y":{"field":"hy","type":"quantitative","scale":{"domain":[0,0.6],"nice":false}},"angle":{"field":"ang","type":"quantitative","scale":null}}}
   ]},
   {"layer":[
    {"data":{"values":[{}]},"mark":{"type":"rect","fill":"white","stroke":"#888","strokeWidth":1},
     "encoding":{"x":{"datum":0,"type":"quantitative","scale":{"domain":[0,35],"range":[40,177],"nice":false}},"x2":{"datum":35},"y":{"datum":0,"type":"quantitative","scale":{"domain":[0,0.02],"range":[67,7],"nice":false}},"y2":{"datum":0.02}}},
    {"data":{"values":[{"g":10},{"g":20},{"g":30}]},"mark":{"type":"rule","color":"#e6e6e6","strokeWidth":1},
     "encoding":{"x":{"field":"g","type":"quantitative","scale":{"domain":[0,35],"range":[40,177],"nice":false}},"y":{"datum":0,"type":"quantitative","scale":{"domain":[0,0.02],"range":[67,7],"nice":false}},"y2":{"datum":0.02}}},
    {"data":{"values":[{}]},"mark":{"type":"rule","color":"#e6e6e6","strokeWidth":1},
     "encoding":{"x":{"datum":0,"type":"quantitative","scale":{"domain":[0,35],"range":[40,177],"nice":false}},"x2":{"datum":35},"y":{"datum":0.01,"type":"quantitative","scale":{"domain":[0,0.02],"range":[67,7],"nice":false}}}},
    {"data":{"name":"di"},"transform":[{"fold":["s1","s2","s3","s4"],"as":["series","v"]},{"filter":"isValid(datum.v)"}],
     "mark":{"type":"line","strokeWidth":2},
     "encoding":{
      "x":{"field":"x","type":"quantitative","scale":{"domain":[0,35],"range":[40,177],"nice":false},"axis":{"orient":"bottom","offset":-137,"values":[0,10,20,30],"format":"~g","labelFontSize":15,"grid":false,"labelPadding":4,"title":null,"zindex":1}},
      "y":{"field":"v","type":"quantitative","scale":{"domain":[0,0.02],"range":[67,7],"nice":false},"axis":{"orient":"left","offset":-40,"values":[0,0.01,0.02],"format":"~g","labelFontSize":15,"grid":false,"labelPadding":4,"title":null,"zindex":1}},
      "color":{"field":"series","type":"nominal","scale":{"domain":["s1","s2","s3","s4"],"range":["#2c4cb8","#111111","#f01c1c","#66bb33"]},"legend":null},
      "strokeDash":{"field":"series","type":"nominal","scale":{"domain":["s1","s2","s3","s4"],"range":[[5,3],[2,3],[1,0],[7,4]]},"legend":null}
     }}
   ]}
  ],
  "resolve":{"scale":{"x":"independent","y":"independent"}}}
],
"columns":2,
"spacing":{"row":28,"column":21},
"bounds":"flush",
"resolve":{"scale":{"color":"independent","strokeDash":"independent"}}
}
